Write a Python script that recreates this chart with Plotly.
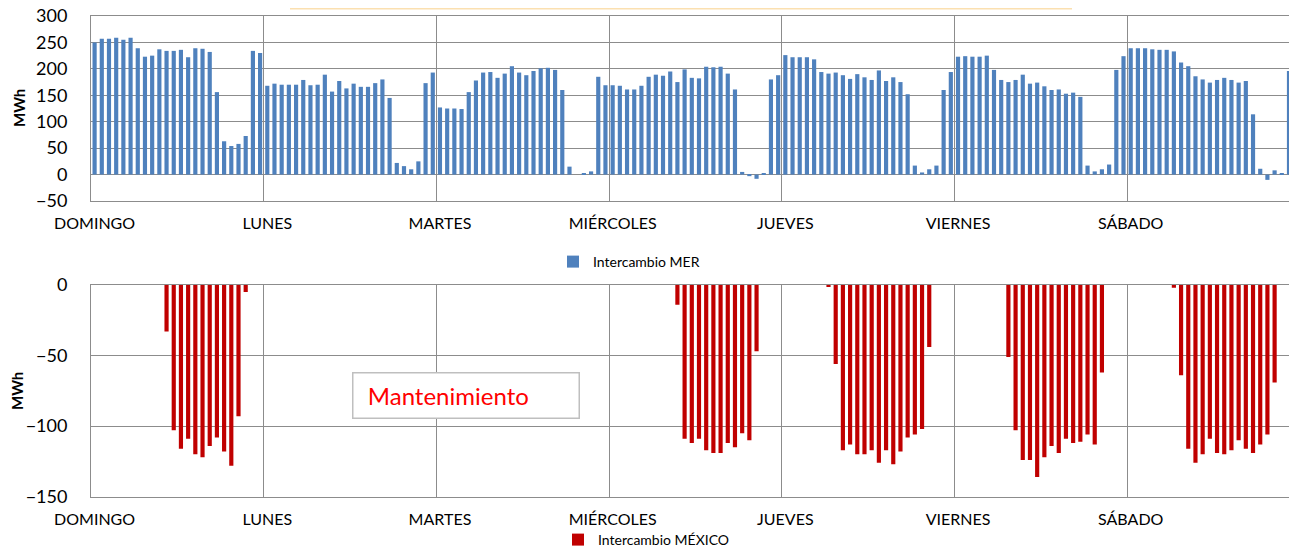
import plotly.graph_objects as go

days = ["DOMINGO", "LUNES", "MARTES", "MIÉRCOLES", "JUEVES", "VIERNES", "SÁBADO"]

# Intercambio MER (MWh), 24 hourly values per day
mer_domingo = [250, 257, 257, 259, 255, 259, 239, 223, 225, 237, 234, 234, 236, 222, 239, 238, 232, 156, 63, 54, 58, 73, 234, 230]
mer_lunes = [168, 172, 170, 170, 170, 179, 169, 170, 189, 157, 177, 163, 172, 166, 166, 173, 180, 145, 22, 16, 10, 25, 173, 193]
mer_martes = [127, 125, 125, 124, 156, 178, 193, 194, 183, 191, 205, 193, 188, 196, 201, 202, 198, 160, 15, 0, 2, 6, 185, 169]
mer_miercoles = [169, 168, 161, 161, 168, 185, 189, 187, 195, 175, 199, 183, 182, 204, 203, 204, 191, 161, 5, -3, -8, 2, 180, 188]
mer_jueves = [226, 222, 222, 222, 218, 194, 191, 193, 188, 181, 190, 184, 179, 197, 177, 184, 175, 152, 17, 4, 10, 17, 160, 194]
mer_viernes = [223, 224, 223, 223, 225, 198, 179, 175, 179, 189, 172, 174, 167, 160, 161, 153, 155, 147, 17, 6, 10, 19, 198, 224]
mer_sabado = [239, 239, 239, 237, 236, 236, 233, 212, 205, 186, 180, 174, 179, 183, 179, 174, 177, 114, 11, -10, 8, 2, 196, 239]

# Intercambio MÉXICO (MWh), 24 hourly values per day
mex_domingo = [0, 0, 0, 0, 0, 0, 0, 0, 0, 0, -33, -103, -116, -109, -120, -122, -114, -108, -118, -128, -93, -5, 0, 0]
mex_lunes = [0, 0, 0, 0, 0, 0, 0, 0, 0, 0, 0, 0, 0, 0, 0, 0, 0, 0, 0, 0, 0, 0, 0, 0]
mex_martes = [0, 0, 0, 0, 0, 0, 0, 0, 0, 0, 0, 0, 0, 0, 0, 0, 0, 0, 0, 0, 0, 0, 0, 0]
mex_miercoles = [0, 0, 0, 0, 0, 0, 0, 0, 0, -14, -109, -112, -109, -117, -119, -119, -112, -115, -105, -110, -47, 0, 0, 0]
mex_jueves = [0, 0, 0, 0, 0, 0, -1, -56, -117, -113, -120, -120, -117, -126, -117, -127, -118, -108, -106, -102, -44, 0, 0, 0]
mex_viernes = [0, 0, 0, 0, 0, 0, 0, -51, -103, -124, -124, -136, -122, -114, -119, -109, -112, -111, -106, -113, -62, 0, 0, 0]
mex_sabado = [0, 0, 0, 0, 0, 0, -2, -64, -116, -126, -120, -109, -119, -120, -117, -110, -116, -119, -113, -106, -69, 0, 0, 0]

mer = mer_domingo + mer_lunes + mer_martes + mer_miercoles + mer_jueves + mer_viernes + mer_sabado
mex = mex_domingo + mex_lunes + mex_martes + mex_miercoles + mex_jueves + mex_viernes + mex_sabado
hours_per_day = len(mer_domingo)
x = list(range(len(mer)))
day_starts = [i * hours_per_day for i in range(len(days))]

# The page body adds an 8px margin on every side; the figure is sized so the
# page does not overflow the window, and layout coordinates are given in
# screen pixels converted to figure pixels (screen - 8).
OFF = 8
W, H = 1297 - 2 * OFF, 557 - 2 * OFF
FONT = "Lato"
GRID = "#8C8C8C"


def px(v):
    return (v - OFF) / W


def py(v):
    return 1 - (v - OFF) / H


fig = go.Figure()
fig.add_trace(go.Bar(x=x, y=mer, name="Intercambio MER", marker=dict(color="#4F81BD", line=dict(width=0)),
                     xaxis="x", yaxis="y", legend="legend"))
fig.add_trace(go.Bar(x=x, y=mex, name="Intercambio MÉXICO", marker=dict(color="#C00000", line=dict(width=0)),
                     xaxis="x2", yaxis="y2", legend="legend2"))

xr = [-0.5, 166.0]
xcommon = dict(range=xr, tickmode="array", tickvals=day_starts, ticktext=days,
               showgrid=False, zeroline=False, showline=True, linecolor=GRID, linewidth=1, mirror=True,
               ticks="outside", ticklen=8, tickcolor="rgba(0,0,0,0)",
               tickfont=dict(family=FONT, size=16, color="#000000"),
               minor=dict(tickmode="linear", tick0=-0.5, dtick=hours_per_day, showgrid=True,
                          gridcolor=GRID, gridwidth=1, ticks=""),
               domain=[px(91), 1.0], fixedrange=True, automargin=False, ticklabeloverflow="allow")

ycommon = dict(tickmode="linear", dtick=50, showgrid=True, gridcolor=GRID, gridwidth=1, zeroline=False,
               showline=True, linecolor=GRID, linewidth=1, mirror=False,
               ticks="outside", ticklen=19, tickcolor="rgba(0,0,0,0)",
               tickfont=dict(family=FONT, size=18, color="#000000"), fixedrange=True, automargin=False,
               ticklabeloverflow="allow")

fig.update_layout(
    template="none",
    width=W, height=H, autosize=False,
    margin=dict(l=0, r=0, t=0, b=0, pad=0, autoexpand=False),
    paper_bgcolor="white", plot_bgcolor="white",
    bargap=0.42,
    font=dict(family=FONT, color="#000000"),
    xaxis=dict(xcommon, anchor="y"),
    xaxis2=dict(xcommon, anchor="y2"),
    yaxis=dict(ycommon, domain=[py(201), py(16)], range=[-50, 300], tick0=-50, anchor="x"),
    yaxis2=dict(ycommon, domain=[py(496.7), py(285)], range=[-150, 0], tick0=-150, anchor="x2"),
    legend=dict(x=px(553), y=py(262), xanchor="left", yanchor="middle", orientation="h",
                font=dict(family=FONT, size=14, color="#000000"), bgcolor="rgba(0,0,0,0)", itemwidth=30),
    legend2=dict(x=px(558), y=py(540), xanchor="left", yanchor="middle", orientation="h",
                 font=dict(family=FONT, size=14, color="#000000"), bgcolor="rgba(0,0,0,0)", itemwidth=30),
    showlegend=True,
)

# Axis titles
fig.add_annotation(text="<b>MWh</b>", x=px(19), y=py(108), xref="paper", yref="paper",
                   xanchor="center", yanchor="middle",
                   textangle=-90, showarrow=False, font=dict(family=FONT, size=15, color="#000000"))
fig.add_annotation(text="<b>MWh</b>", x=px(17), y=py(391), xref="paper", yref="paper",
                   xanchor="center", yanchor="middle",
                   textangle=-90, showarrow=False, font=dict(family=FONT, size=15, color="#000000"))

# Maintenance note box
fig.add_annotation(text="&nbsp;&nbsp;Mantenimiento", x=px(352), y=py(372), xref="paper", yref="paper",
                   xanchor="left", yanchor="top", showarrow=False, align="left",
                   width=221, height=40, borderpad=2, bordercolor="#BFBFBF", borderwidth=1.5,
                   bgcolor="white", font=dict(family=FONT, size=24, color="#FF0000"))

# Edge of a cropped text box at the top
fig.add_shape(type="line", xref="paper", yref="paper", x0=px(290), x1=px(1072),
              y0=1 - 0.5 / H, y1=1 - 0.5 / H, line=dict(color="#FBE0B0", width=2))

fig.write_html("out.html")
